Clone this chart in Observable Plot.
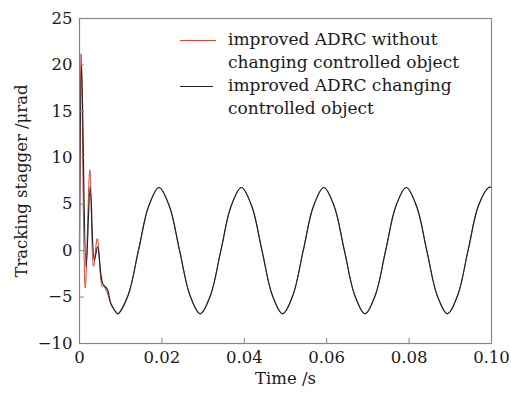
<!DOCTYPE html>
<html><head><meta charset="utf-8">
<script src="https://cdn.jsdelivr.net/npm/d3@7"></script>
<script src="https://cdn.jsdelivr.net/npm/@observablehq/plot@0.6"></script>
<style>
body{margin:0;background:#fff;}
#wrap{position:relative;width:511px;height:399px;font-family:"DejaVu Serif",serif;color:#1a1a1a;}
.legtxt{position:absolute;left:228px;font-size:17px;line-height:23px;white-space:nowrap;}
.legline{position:absolute;height:0;}
</style></head><body><div id="wrap"></div><script>
// Transient part
const redTime  = [0, 0.0004, 0.0014, 0.0025, 0.0034, 0.0043, 0.0052, 0.0055, 0.0058, 0.0066, 0.0076, 0.0088];
const redValue = [0, 21.2, -4.0, 8.7, -1.7, 1.3, -3.2, -3.9, -3.8, -4.4, -5.7, -6.6];
const blackTime  = [0, 0.0005, 0.0016, 0.0026, 0.0036, 0.0044, 0.0056, 0.0068, 0.0076, 0.0088];
const blackValue = [0, 20.0, -1.8, 6.9, -1.0, 0.4, -3.5, -4.2, -5.7, -6.6];
// Steady oscillation (shared by both series)
const steadyTime = [0.0093, 0.0118, 0.0143, 0.0168, 0.0193, 0.0218, 0.0243, 0.0268,
  0.0293, 0.0318, 0.0343, 0.0368, 0.0393, 0.0418, 0.0443, 0.0468,
  0.0493, 0.0518, 0.0543, 0.0568, 0.0593, 0.0618, 0.0643, 0.0668,
  0.0693, 0.0718, 0.0743, 0.0768, 0.0793, 0.0818, 0.0843, 0.0868,
  0.0893, 0.0918, 0.0943, 0.0968, 0.0993, 0.1];
const steadyValue = [-6.8, -4.8, 0, 4.8, 6.8, 4.8, 0, -4.8,
  -6.8, -4.8, 0, 4.8, 6.8, 4.8, 0, -4.8,
  -6.8, -4.8, 0, 4.8, 6.8, 4.8, 0, -4.8,
  -6.8, -4.8, 0, 4.8, 6.8, 4.8, 0, -4.8,
  -6.8, -4.8, 0, 4.8, 6.8, 6.8];
const xTicks = [0, 0.02, 0.04, 0.06, 0.08, 0.10];
const yTicks = [-10, -5, 0, 5, 10, 15, 20, 25];
const seriesNames = ["improved ADRC without changing controlled object", "improved ADRC changing controlled object"];

const red = redTime.map((t, i) => ({t, v: redValue[i]})).concat(steadyTime.map((t, i) => ({t, v: steadyValue[i]})));
const black = blackTime.map((t, i) => ({t, v: blackValue[i]})).concat(steadyTime.map((t, i) => ({t, v: steadyValue[i]})));

const chart = Plot.plot({
  width: 511, height: 399,
  marginLeft: 79, marginRight: 20, marginTop: 18, marginBottom: 56,
  style: {fontFamily: "DejaVu Serif, serif", fontSize: "16.5px", color: "#1a1a1a", background: "#fff"},
  x: {domain: [0, 0.1]},
  y: {domain: [-10, 25]},
  marks: [
    Plot.line(red, {x: "t", y: "v", stroke: "#d4463a", strokeWidth: 1, curve: "catmull-rom"}),
    Plot.line(black, {x: "t", y: "v", stroke: "#222", strokeWidth: 1.2, curve: "catmull-rom"}),
    Plot.ruleX(xTicks.slice(1, -1), {y1: -10, y2: -9.45, stroke: "#888"}),
    Plot.ruleY(yTicks.slice(1, -1), {x1: 0, x2: 0.0012, stroke: "#888"}),
    Plot.axisX({ticks: xTicks, tickSize: 0, tickPadding: 8, tickFormat: d => d === 0 ? "0" : d.toFixed(2),
      label: "Time /s", labelAnchor: "center", labelOffset: 40, labelArrow: "none"}),
    Plot.axisY({ticks: yTicks, tickSize: 0, tickPadding: 7, tickFormat: d => d < 0 ? "\u2212" + Math.abs(d) : String(d),
      label: "Tracking stagger /\u03bcrad", labelAnchor: "center", labelOffset: 64, labelArrow: "none"}),
    Plot.frame({stroke: "#888", strokeWidth: 1.2})
  ]
});
const wrap = document.getElementById("wrap");
wrap.appendChild(chart);

// Legend overlay
function addLine(top, color, left, width, sw) {
  const d = document.createElement("div");
  d.className = "legline";
  d.style.cssText = `top:${top}px;left:${left}px;width:${width}px;border-top:${sw}px solid ${color};`;
  wrap.appendChild(d);
}
function addText(top, html) {
  const d = document.createElement("div");
  d.className = "legtxt";
  d.style.top = top + "px";
  d.innerHTML = html;
  wrap.appendChild(d);
}
addLine(40, "#d4463a", 180, 36, 1);
addText(28, "improved ADRC without<br>changing controlled object");
addLine(86, "#222", 180, 33, 1.2);
addText(74, "improved ADRC changing<br>controlled object");
</script></body></html>
